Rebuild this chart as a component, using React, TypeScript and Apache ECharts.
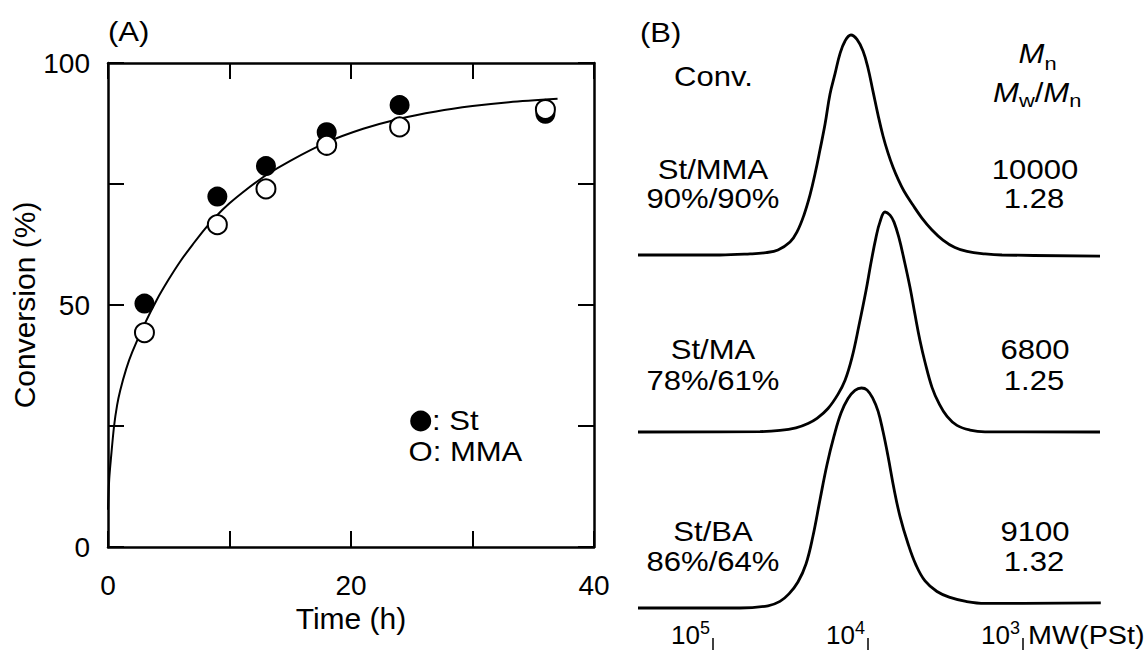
import React, { useEffect, useRef } from "react";
import * as echarts from "echarts";

// ---------- Panel A data ----------
const timeH = [3, 9, 13, 18, 24, 36];
const convSt = [50.3, 72.4, 78.7, 85.7, 91.3, 89.5];
const convMMA = [44.3, 66.6, 74.0, 83.0, 86.8, 90.4];
const fitTime = [0, 0.1, 0.25, 0.5, 0.75, 1, 1.5, 2, 3, 4, 5, 6, 7, 8, 9, 10, 11, 13, 15, 18, 21, 24, 27, 30, 33, 37];
const fitConv = [7.7, 14, 18.5, 25, 29.3, 32.3, 36.8, 40.3, 46, 51, 55.3, 59.2, 62.6, 65.8, 68.6, 71, 73.1, 76.8, 79.8, 83.6, 86.4, 88.5, 90, 91.1, 91.9, 92.6];
const xTickLabelsA = [0, 20, 40];
const yTickLabelsA = [0, 50, 100];

// ---------- Panel B data (x = log10 MW, y = normalised RI intensity) ----------
const logMW_StMMA = [5.484, 4.955, 4.761, 4.658, 4.581, 4.503, 4.458, 4.413, 4.374, 4.342, 4.31, 4.277, 4.245, 4.213, 4.181, 4.148, 4.11, 4.071, 4.032, 4.0, 3.968, 3.935, 3.903, 3.871, 3.839, 3.806, 3.768, 3.71, 3.652, 3.587, 3.516, 3.439, 3.361, 3.245, 3.135, 2.503];
const ri_StMMA = [0, 0, 0.005, 0.011, 0.023, 0.059, 0.105, 0.182, 0.273, 0.368, 0.477, 0.595, 0.732, 0.823, 0.914, 0.973, 1.0, 0.98, 0.927, 0.85, 0.745, 0.636, 0.541, 0.464, 0.4, 0.345, 0.291, 0.227, 0.168, 0.114, 0.068, 0.034, 0.016, 0.005, 0, -0.005];

const logMW_StMA = [5.484, 4.697, 4.568, 4.465, 4.387, 4.329, 4.258, 4.194, 4.148, 4.103, 4.058, 4.013, 3.981, 3.948, 3.923, 3.89, 3.858, 3.832, 3.8, 3.768, 3.729, 3.697, 3.665, 3.632, 3.587, 3.542, 3.49, 3.426, 3.342, 3.245, 2.503];
const ri_StMA = [0, 0.002, 0.007, 0.019, 0.039, 0.062, 0.107, 0.171, 0.235, 0.339, 0.485, 0.642, 0.768, 0.886, 0.954, 1.0, 0.986, 0.954, 0.882, 0.786, 0.658, 0.535, 0.417, 0.317, 0.203, 0.13, 0.071, 0.03, 0.009, 0.001, 0];

const logMW_StBA = [5.484, 4.826, 4.645, 4.568, 4.51, 4.452, 4.4, 4.355, 4.31, 4.265, 4.219, 4.174, 4.129, 4.084, 4.042, 4.006, 3.968, 3.935, 3.903, 3.871, 3.832, 3.794, 3.742, 3.69, 3.632, 3.555, 3.471, 3.368, 3.245, 2.498];
const ri_StBA = [0, 0, 0.01, 0.03, 0.064, 0.118, 0.2, 0.327, 0.491, 0.65, 0.782, 0.886, 0.952, 0.989, 1.0, 0.991, 0.952, 0.895, 0.802, 0.691, 0.541, 0.418, 0.293, 0.195, 0.123, 0.075, 0.048, 0.03, 0.021, 0.023];

const mwTickExps = [5, 4, 3];
const samples = ["St/MMA", "St/MA", "St/BA"];
const convLabels = ["90%/90%", "78%/61%", "86%/64%"];
const mnValues = ["10000", "6800", "9100"];
const dispersity = ["1.28", "1.25", "1.32"];

const FONT = '"Liberation Sans", Arial, Helvetica, sans-serif';
const SX = 1.15;

function txt(text: string, x: number, y: number, align = "center", size = 27, italic = false) {
  return {
    type: "text",
    x,
    y,
    scaleX: SX,
    silent: true,
    style: {
      text,
      fontSize: size,
      fontFamily: FONT,
      fontStyle: italic ? "italic" : "normal",
      fill: "#000",
      align,
      verticalAlign: "middle",
      textAlign: align,
      textVerticalAlign: "middle",
    },
  };
}

const pairs = (xs: number[], ys: number[]) => xs.map((x, i) => [x, ys[i]]);

function buildOption() {
  const axisLineA = { show: true, onZero: false, lineStyle: { color: "#000", width: 2.5 } };
  const axisTickA = { show: true, inside: true, length: 16, lineStyle: { color: "#000", width: 2 } };
  const labelFont = { fontSize: 28, color: "#000", fontFamily: FONT };
  const bXRange = { type: "value", min: 2.503, max: 5.484, inverse: true };

  const rowY = [170, 349.5, 532];
  const rowGap = [29, 31, 30];
  const graphics: any[] = [
    txt("(A)", 108, 32, "left"),
    { type: "circle", silent: true, shape: { cx: 420.7, cy: 421, r: 10.5 }, style: { fill: "#000" } },
    txt(": St", 432, 421, "left"),
    txt("O: MMA", 408.5, 451.7, "left"),
    txt("(B)", 640, 33, "left"),
    txt("Conv.", 713.5, 76.5, "center"),
    // Mn
    txt("M", 1018.5, 54, "left", 27, true),
    txt("n", 1044.4, 63.5, "left", 19),
    // Mw/Mn
    txt("M", 993, 93, "left", 27, true),
    txt("w", 1018.9, 100, "left", 19),
    txt("/", 1034.7, 93, "left", 27),
    txt("M", 1043.3, 93, "left", 27, true),
    txt("n", 1069.2, 100, "left", 19),
    txt("MW(PSt)", 1028, 636, "left", 25),
  ];
  samples.forEach((s, i) => {
    graphics.push(txt(s, 713, rowY[i], "center"));
    graphics.push(txt(convLabels[i], 713, rowY[i] + rowGap[i], "center"));
    graphics.push(txt(mnValues[i], 1035, rowY[i], "center"));
    graphics.push(txt(dispersity[i], 1034, rowY[i] + rowGap[i], "center"));
  });

  const traceStyle = { color: "#000", width: 2.8 };

  return {
    animation: false,
    backgroundColor: "#ffffff",
    textStyle: { fontFamily: FONT, color: "#000" },
    grid: [
      { left: 108, top: 63, width: 486, height: 484, outerBoundsMode: "none" },
      { left: 638, top: 35, width: 462, height: 220, outerBoundsMode: "none" },
      { left: 638, top: 212, width: 462, height: 220, outerBoundsMode: "none" },
      { left: 638, top: 388, width: 462, height: 220, outerBoundsMode: "none" },
      { left: 638, top: 598, width: 462, height: 40, outerBoundsMode: "none" },
    ],
    xAxis: [
      {
        gridIndex: 0, type: "value", min: 0, max: 40, interval: 10, position: "bottom",
        axisLine: axisLineA, axisTick: axisTickA, splitLine: { show: false },
        axisLabel: {
          ...labelFont, margin: 24,
          formatter: (v: number) => (xTickLabelsA.includes(v) ? String(v) : ""),
        },
        name: "Time (h)", nameLocation: "middle", nameGap: 40,
        nameTextStyle: { fontSize: 30, color: "#000", fontFamily: FONT },
      },
      {
        gridIndex: 0, type: "value", min: 0, max: 40, interval: 10, position: "top",
        axisLine: axisLineA, axisTick: axisTickA, splitLine: { show: false }, axisLabel: { show: false },
      },
      { gridIndex: 1, ...bXRange, show: false },
      { gridIndex: 2, ...bXRange, show: false },
      { gridIndex: 3, ...bXRange, show: false },
      {
        gridIndex: 4, ...bXRange, position: "bottom",
        axisLine: { show: false },
        splitLine: { show: false },
        axisTick: { show: true, customValues: mwTickExps, inside: false, length: 12, lineStyle: { color: "#000", width: 1.5 } },
        axisLabel: {
          customValues: mwTickExps,
          formatter: (v: number) => `{b|10}{s|${v}}`,
          align: "right",
          verticalAlign: "middle",
          margin: -3,
          padding: [0, 3, 0, 0],
          rich: {
            b: { fontSize: 26, fontFamily: FONT, color: "#000", lineHeight: 32 },
            s: { fontSize: 18, fontFamily: FONT, color: "#000", lineHeight: 18, verticalAlign: "top" },
          },
        },
      },
    ],
    yAxis: [
      {
        gridIndex: 0, type: "value", min: 0, max: 100, interval: 25, position: "left",
        axisLine: axisLineA, axisTick: axisTickA, splitLine: { show: false },
        axisLabel: {
          ...labelFont, margin: 18,
          formatter: (v: number) => (yTickLabelsA.includes(v) ? String(v) : ""),
        },
        name: "Conversion (%)", nameLocation: "middle", nameGap: 63,
        nameTextStyle: { fontSize: 30, color: "#000", fontFamily: FONT },
      },
      {
        gridIndex: 0, type: "value", min: 0, max: 100, interval: 25, position: "right",
        axisLine: axisLineA, axisTick: axisTickA, splitLine: { show: false }, axisLabel: { show: false },
      },
      { gridIndex: 1, type: "value", min: 0, max: 1, show: false },
      { gridIndex: 2, type: "value", min: 0, max: 1, show: false },
      { gridIndex: 3, type: "value", min: 0, max: 1, show: false },
      { gridIndex: 4, type: "value", min: 0, max: 1, show: false },
    ],
    series: [
      {
        type: "line", xAxisIndex: 0, yAxisIndex: 0, data: pairs(fitTime, fitConv),
        smooth: 0.3, showSymbol: false, symbol: "none", lineStyle: { color: "#000", width: 2 }, z: 2, silent: true,
      },
      {
        type: "scatter", xAxisIndex: 0, yAxisIndex: 0, data: pairs(timeH, convSt),
        symbol: "circle", symbolSize: 20, itemStyle: { color: "#000", opacity: 1 }, z: 3,
      },
      {
        type: "scatter", xAxisIndex: 0, yAxisIndex: 0, data: pairs(timeH, convMMA),
        symbol: "circle", symbolSize: 19, itemStyle: { color: "#fff", borderColor: "#000", borderWidth: 2, opacity: 1 }, z: 4,
      },
      {
        type: "line", xAxisIndex: 2, yAxisIndex: 2, data: pairs(logMW_StMMA, ri_StMMA),
        smooth: 0.4, showSymbol: false, symbol: "none", clip: false, lineStyle: traceStyle, silent: true,
      },
      {
        type: "line", xAxisIndex: 3, yAxisIndex: 3, data: pairs(logMW_StMA, ri_StMA),
        smooth: 0.4, showSymbol: false, symbol: "none", clip: false, lineStyle: traceStyle, silent: true,
      },
      {
        type: "line", xAxisIndex: 4, yAxisIndex: 4, data: pairs(logMW_StBA, ri_StBA),
        smooth: 0.4, showSymbol: false, symbol: "none", clip: false, lineStyle: traceStyle, silent: true,
      },
    ],
    graphic: { elements: graphics },
  };
}

export default function App() {
  const ref = useRef<HTMLDivElement>(null);
  useEffect(() => {
    document.body.style.margin = "0";
    const chart = echarts.init(ref.current as HTMLDivElement, null, { renderer: "svg" });
    chart.setOption(buildOption() as any);
    return () => chart.dispose();
  }, []);
  return <div ref={ref} style={{ width: 1146, height: 650, background: "#fff" }} />;
}
